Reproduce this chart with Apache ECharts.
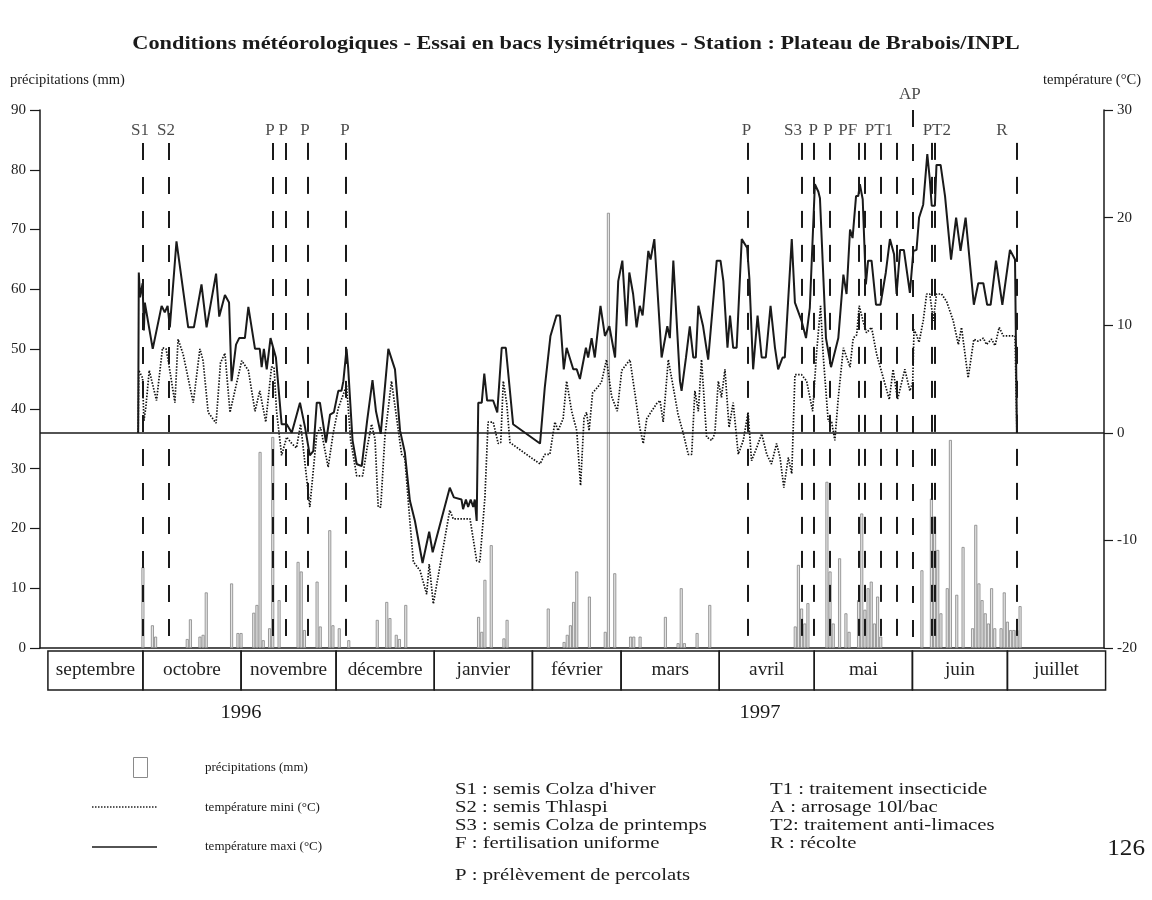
<!DOCTYPE html>
<html>
<head>
<meta charset="utf-8">
<script src="https://cdn.jsdelivr.net/npm/echarts@6/dist/echarts.min.js"></script>
<style>
  html, body { margin: 0; padding: 0; background: #fff; }
  #chart { width: 1152px; height: 900px; }
</style>
</head>
<body>
<div id="chart"></div>
<script>
// Season axis: day 0 = 1 September 1996
const months = ['septembre', 'octobre', 'novembre', 'décembre', 'janvier', 'février', 'mars', 'avril', 'mai', 'juin', 'juillet'];
const monthStart = [0, 30, 61, 91, 122, 153, 181, 212, 242, 273, 303];
const monthEnd = [30, 61, 91, 122, 153, 181, 212, 242, 273, 303, 334];
const years = ['1996', '1997'];

// Daily rainfall (mm)
const rainDays = [30, 33, 34, 44, 45, 48, 49, 50, 58, 60, 61, 65, 66, 67, 68, 70, 71, 73, 79, 80, 81, 85, 86, 89, 90, 92, 95,
  104, 107, 108, 110, 111, 113, 136, 137, 138, 140, 144, 145, 158, 163, 164, 165, 166, 167, 171, 176, 177, 179, 184, 185, 187,
  195, 199, 200, 201, 205, 209, 236, 237, 238, 239, 240, 246, 247, 248, 250, 252, 253, 256, 257, 258, 259, 260, 261, 262, 263,
  276, 279, 280, 281, 282, 284, 285, 287, 289, 292, 293, 294, 295, 296, 297, 298, 299, 301, 302, 303, 304, 305, 306, 307];
const rainMm = [13.5, 3.8, 1.9, 1.5, 4.8, 1.9, 2.2, 9.3, 10.8, 2.5, 2.5, 5.9, 7.2, 32.8, 1.3, 3.3, 35.3, 8.0, 14.4, 12.8, 3.0, 11.1, 3.6, 19.7, 3.8, 3.3, 1.3,
  4.7, 7.7, 5.0, 2.2, 1.5, 7.2, 5.2, 2.7, 11.4, 17.2, 1.6, 4.7, 6.6, 1.0, 2.2, 3.8, 7.7, 12.8, 8.6, 2.7, 72.8, 12.5, 1.9, 1.9, 1.9,
  5.2, 0.8, 10.0, 0.8, 2.5, 7.2, 3.6, 13.9, 6.6, 4.1, 7.5, 27.8, 12.8, 4.1, 15.0, 5.8, 2.7, 8.0, 22.5, 6.4, 10.0, 11.1, 4.1, 8.6, 1.9,
  13.0, 25.0, 22.0, 16.4, 5.8, 10.0, 34.8, 8.9, 16.9, 3.3, 20.6, 10.8, 8.0, 5.8, 4.1, 10.0, 3.3, 3.3, 9.3, 4.4, 3.0, 3.0, 3.0, 7.0];

// Maximum temperature (°C): [day, value]
const tmax = [[28.5,0],[28.7,14.9],[29.1,12.6],[29.9,13.9],[30.3,9.5],[30.6,12.1],[33.1,7.8],[35.9,11.8],[36.9,11.2],[37.8,11.8],[38.5,9.8],[40.6,17.8],[44.3,9.8],[46.1,9.8],[48.5,13.8],[50.1,9.8],[53.1,14.8],[54.1,10.8],[55.9,12.8],[57.2,12.1],[58.0,4.8],[59.4,8.2],[60.4,8.8],[62.2,8.8],[63.3,11.7],[65.4,7.8],[66.9,7.8],[67.5,6.1],[68.2,7.8],[69.1,5.9],[70.3,8.8],[72.0,7.0],[73.8,0.8],[75.4,0.8],[77.0,0],[79.6,2.8],[81.2,0.5],[82.7,-2.1],[83.8,-1.7],[84.9,2.8],[85.9,2.8],[87.8,-0.9],[89.1,1.7],[90.3,1.9],[91.7,3.9],[92.7,3.9],[93.3,4.8],[94.3,7.8],[94.8,6.1],[96.2,-0.7],[97.5,-2.9],[99.1,-3.1],[100.8,1.1],[102.5,4.9],[103.6,2.0],[105.1,-0.1],[107.5,7.8],[109.6,5.9],[111.2,0.2],[112.7,-1.8],[114.3,-6.3],[115.9,-8.2],[118.3,-12.1],[120.4,-9.2],[121.5,-11.1],[126.9,-5.1],[128.2,-6.0],[130.6,-6.2],[131.1,-7.1],[132.0,-6.2],[132.7,-6.9],[133.5,-6.2],[134.3,-6.9],[134.8,-6.2],[135.4,-8.2],[135.9,2.8],[137.0,2.8],[137.8,5.5],[138.7,3.0],[140.6,3.0],[141.9,1.9],[143.3,7.9],[144.6,7.9],[146.9,0.8],[155.4,-1.0],[156.9,4.2],[158.7,9.0],[160.6,10.9],[161.7,10.9],[162.9,5.9],[163.8,7.9],[165.9,5.9],[167.0,5.9],[168.0,5.0],[169.9,7.9],[170.6,7.0],[171.7,8.8],[172.7,7.0],[174.5,11.8],[175.9,9.0],[177.3,9.9],[179.1,7.0],[180.1,14.1],[181.4,16.0],[182.7,9.9],[183.6,14.9],[184.8,12.9],[185.9,9.8],[186.9,11.8],[187.8,10.9],[189.6,16.9],[190.3,16.1],[191.5,18.0],[193.8,7.0],[195.6,9.9],[196.4,8.8],[197.5,16.0],[199.6,4.8],[200.1,3.9],[201.5,7.0],[202.7,9.9],[203.8,7.0],[204.6,7.0],[205.4,11.8],[206.9,9.9],[208.5,6.8],[211.2,16.0],[212.4,16.0],[213.3,14.1],[214.6,7.9],[215.4,10.9],[216.4,7.9],[217.5,7.9],[219.1,18.0],[220.8,17.2],[221.5,14.4],[222.7,5.9],[224.1,10.9],[225.4,7.0],[226.7,7.0],[228.2,11.8],[229.6,7.9],[230.6,5.9],[232.0,7.0],[232.7,7.0],[234.9,18.0],[235.9,12.1],[238.0,10.4],[239.4,8.8],[240.6,11.6],[242.2,23.1],[243.3,22.4],[243.8,21.8],[245.7,8.8],[247.3,6.1],[249.6,8.8],[251.2,14.7],[252.2,12.9],[253.3,18.9],[254.1,18.1],[255.2,22.0],[255.9,22.0],[256.4,23.1],[257.3,21.7],[258.3,13.8],[259.0,16.0],[260.1,16.0],[261.5,11.9],[262.9,11.9],[264.6,14.9],[265.9,18.0],[267.2,16.6],[268.0,12.9],[269.1,17.0],[270.3,17.0],[272.2,13.0],[273.3,16.9],[274.3,17.0],[275.1,20.0],[276.4,21.2],[277.7,25.9],[278.5,23.5],[279.1,21.1],[280.1,21.1],[280.6,24.9],[281.9,24.9],[283.3,22.0],[285.2,16.1],[286.8,20.0],[288.2,16.9],[289.8,20.0],[292.4,11.9],[293.8,13.9],[295.4,13.9],[296.6,11.9],[297.7,11.9],[299.4,16.0],[301.4,11.9],[303.8,17.0],[305.4,16.1],[306.0,0]];

// Minimum temperature (°C): [day, value]
const tmin = [[28.5,0],[28.7,5.8],[29.9,5.1],[30.3,1.1],[30.9,2.3],[32.0,5.8],[34.3,3.0],[36.2,7.9],[37.3,7.8],[38.0,6.7],[40.1,2.8],[41.1,8.7],[42.7,7.3],[45.9,2.8],[48.0,7.8],[49.0,6.7],[50.6,1.9],[53.1,0.9],[54.5,6.5],[55.9,7.4],[57.5,1.9],[61.2,6.7],[63.3,5.8],[65.4,2.0],[66.9,3.9],[68.8,1.0],[70.6,6.1],[71.4,6.1],[72.2,2.0],[73.8,-2.1],[75.4,-0.4],[77.0,-1.0],[78.5,-1.4],[79.8,0.8],[82.7,-6.9],[84.9,-0.1],[86.1,0.5],[88.5,-3.2],[90.1,0],[91.7,2.3],[94.3,4.4],[95.6,-0.7],[97.5,-4.0],[99.4,-4.0],[100.8,-1.4],[102.2,0.8],[103.3,-0.6],[104.3,-6.9],[105.1,-6.9],[106.4,-0.4],[108.5,4.8],[110.1,1.4],[111.7,-2.0],[112.7,-2.3],[114.3,-8.2],[115.4,-12.0],[117.5,-12.8],[119.6,-15.0],[120.4,-12.2],[121.7,-15.9],[126.9,-7.2],[128.0,-8.0],[133.3,-8.0],[135.4,-11.9],[136.4,-12.0],[138.0,-6.0],[139.0,1.0],[140.6,1.0],[142.2,-1.0],[143.0,-0.9],[143.8,4.8],[144.9,2.7],[145.9,-0.9],[155.4,-2.9],[156.9,-2.0],[158.5,-2.0],[160.1,1.0],[161.1,0.2],[162.7,1.3],[163.8,4.8],[165.4,2.0],[167.0,0.2],[168.2,-4.9],[169.3,1.4],[170.1,1.9],[170.9,0.2],[172.0,3.7],[173.5,4.2],[174.8,4.7],[176.4,6.8],[178.0,3.4],[179.8,2.0],[181.2,5.8],[183.8,6.8],[185.4,3.6],[186.9,0.5],[188.0,-1.0],[189.1,1.3],[190.6,2.0],[192.2,2.7],[193.3,3.0],[194.3,1.0],[195.9,6.8],[197.5,4.2],[199.0,1.7],[200.6,0],[202.2,-2.0],[203.3,-2.0],[204.3,3.9],[205.4,2.0],[206.4,6.8],[208.0,-0.4],[209.6,-0.7],[210.6,-0.1],[211.7,4.8],[212.7,3.3],[213.8,5.9],[215.1,0.5],[216.4,2.8],[218.0,-2.0],[219.6,-0.7],[221.1,1.9],[222.2,-2.6],[223.8,-1.4],[225.4,-0.1],[227.0,-2.0],[228.5,-2.9],[230.1,-1.0],[231.2,-2.3],[232.4,-5.1],[233.8,-2.3],[234.9,-3.8],[235.9,5.4],[238.0,5.4],[239.6,4.8],[241.5,2.0],[242.7,7.3],[244.0,11.8],[244.8,7.3],[246.4,1.1],[247.5,1.0],[248.5,-0.7],[249.6,3.3],[251.2,7.9],[253.3,6.1],[254.3,8.8],[255.4,9.1],[256.2,11.8],[257.4,10.4],[258.5,9.3],[260.1,9.8],[261.7,7.3],[263.8,5.1],[265.7,3.1],[266.9,5.9],[268.3,3.1],[270.6,5.9],[272.2,3.9],[273.1,4.7],[273.5,9.6],[274.3,9.1],[275.1,8.4],[276.4,10.4],[277.5,12.9],[278.5,12.9],[279.6,10.4],[280.6,12.9],[282.2,12.9],[283.8,12.2],[285.9,10.4],[287.5,8.2],[288.5,9.8],[290.6,5.1],[292.4,8.7],[293.8,8.5],[295.4,8.8],[296.4,8.2],[298.0,8.7],[299.1,8.1],[300.4,9.8],[301.7,9.0],[305.4,9.0],[306.0,0]];

// Field operations (day of each operation) and their codes
const eventDays = [30, 38, 71, 75, 82, 94, 221, 238, 242, 247, 256, 258, 263, 268, 273, 279, 280, 306];
const eventCodes = ['S1', 'S2', 'P', 'P', 'P', 'P', 'P', 'S3', 'P', 'P', 'P', 'F', 'P', 'T1', 'AP', 'P', 'T2', 'R'];
// Labels written above the operation lines
const markerLabels = ['S1', 'S2', 'P', 'P', 'P', 'P', 'P', 'S3', 'P', 'P', 'PF', 'PT1', 'AP', 'PT2', 'R'];
const markerLabelDays = [29.1, 37.3, 70.1, 74.3, 81.2, 93.8, 220.6, 235.3, 241.7, 246.3, 252.6, 262.4, 272.2, 280.7, 301.3];

const titleText = 'Conditions météorologiques - Essai en bacs lysimétriques - Station : Plateau de Brabois/INPL';
const leftAxisName = 'précipitations (mm)';
const rightAxisName = 'température (°C)';
const legendLabels = ['précipitations (mm)', 'température mini (°C)', 'température maxi (°C)'];
const notesLeft = ['S1 : semis Colza d\'hiver', 'S2 : semis Thlaspi', 'S3 : semis Colza de printemps', 'F : fertilisation uniforme'];
const notesBottom = 'P : prélèvement de percolats';
const notesRight = ['T1 : traitement insecticide', 'A : arrosage 10l/bac', 'T2: traitement anti-limaces', 'R : récolte'];
const pageNumber = '126';

const SERIF = '"Liberation Serif", "DejaVu Serif", serif';
const INK = '#1a1a1a';

const chart = echarts.init(document.getElementById('chart'), null, { renderer: 'canvas' });

const operationLines = eventDays.map((d, i) => {
  const top = eventCodes[i] === 'AP' ? 90 : 84.5;
  return [{ coord: [d, top] }, { coord: [d, 1.3] }];
});

// Text element placed at (x, y); sx widens the glyphs horizontally around that point
const text = (t, x, y, size, sx, extra) => ({
  type: 'text', silent: true, x: x, y: y, scaleX: sx,
  style: Object.assign({ text: t, x: 0, y: 0, fontFamily: SERIF, fontSize: size, fill: INK, verticalAlign: 'middle', align: 'left' }, extra || {})
});

const graphics = [
  text(titleText, 576, 44, 18, 1.24, { align: 'center', fontWeight: 'bold' }),
  text(leftAxisName, 10, 80, 14.5, 1, {}),
  text(rightAxisName, 1141, 80, 14.5, 1, { align: 'right' }),
  text(years[0], 241, 713, 19, 1.08, { align: 'center' }),
  text(years[1], 760, 713, 19, 1.08, { align: 'center' }),
  { type: 'rect', silent: true, shape: { x: 133.5, y: 757.5, width: 14, height: 20 }, style: { fill: 'none', stroke: '#8a8a8a', lineWidth: 1 } },
  { type: 'line', silent: true, shape: { x1: 92, y1: 807, x2: 157, y2: 807 }, style: { stroke: '#222', lineWidth: 1.4, lineDash: [1.5, 1.5] } },
  { type: 'line', silent: true, shape: { x1: 92, y1: 847, x2: 157, y2: 847 }, style: { stroke: INK, lineWidth: 1.6 } },
  text(legendLabels[0], 205, 768, 13, 1, {}),
  text(legendLabels[1], 205, 808, 13, 1, {}),
  text(legendLabels[2], 205, 847, 13, 1, {}),
  text(notesBottom, 455, 876, 17, 1.22, {}),
  text(pageNumber, 1145, 849, 24, 1.05, { align: 'right' })
];
notesLeft.forEach((t, i) => graphics.push(text(t, 455, 790 + i * 18, 17, 1.22, {})));
notesRight.forEach((t, i) => graphics.push(text(t, 770, 790 + i * 18, 17, 1.22, {})));

const option = {
  animation: false,
  backgroundColor: '#fff',
  grid: [
    { left: 40, right: 48, top: 110, bottom: 252 },
    { left: 40, right: 48, top: 651, height: 39 }
  ],
  xAxis: [
    {
      type: 'value', gridIndex: 0, min: -2.5, max: 333.5,
      axisLine: { show: true, onZero: false, lineStyle: { color: INK, width: 1.5 } },
      axisTick: { show: false }, axisLabel: { show: false }, splitLine: { show: false }
    },
    { type: 'value', gridIndex: 1, min: -2.5, max: 333.5, show: false }
  ],
  yAxis: [
    {
      type: 'value', gridIndex: 0, position: 'left', min: 0, max: 90, interval: 10,
      axisLine: { show: true, onZero: false, lineStyle: { color: INK, width: 1.5 } },
      axisTick: { show: true, length: 10, lineStyle: { color: INK, width: 1.2 } },
      axisLabel: { fontFamily: SERIF, fontSize: 15, color: '#222', margin: 14 },
      splitLine: { show: false }
    },
    {
      type: 'value', gridIndex: 0, position: 'right', min: -20, max: 30, interval: 10,
      axisLine: { show: true, onZero: false, lineStyle: { color: INK, width: 1.5 } },
      axisTick: { show: true, length: 9, lineStyle: { color: INK, width: 1.2 } },
      axisLabel: { fontFamily: SERIF, fontSize: 15, color: '#222', margin: 13 },
      splitLine: { show: false }
    },
    { type: 'value', gridIndex: 1, min: 0, max: 1, show: false }
  ],
  graphic: graphics,
  series: [
    {
      name: legendLabels[0], type: 'bar', xAxisIndex: 0, yAxisIndex: 0,
      data: rainDays.map((d, i) => [d, rainMm[i]]),
      barWidth: 3,
      itemStyle: { color: '#e3e3e3', borderColor: '#858585', borderWidth: 0.8 },
      markLine: {
        silent: true, symbol: ['none', 'none'], label: { show: false },
        lineStyle: { color: INK, width: 2, type: [17, 17] },
        data: operationLines
      },
      z: 1
    },
    {
      name: legendLabels[1], type: 'line', xAxisIndex: 0, yAxisIndex: 1,
      data: tmin, symbol: 'none',
      lineStyle: { color: '#111', width: 1.7, type: [1.5, 1.5] },
      z: 3
    },
    {
      name: legendLabels[2], type: 'line', xAxisIndex: 0, yAxisIndex: 1,
      data: tmax, symbol: 'none',
      lineStyle: { color: INK, width: 2 },
      markLine: {
        silent: true, symbol: ['none', 'none'], label: { show: false },
        lineStyle: { color: INK, width: 1.5, type: 'solid' },
        data: [{ yAxis: 0 }]
      },
      z: 4
    },
    {
      name: 'opérations', type: 'scatter', xAxisIndex: 0, yAxisIndex: 0,
      clip: false, symbolSize: 1, itemStyle: { color: 'rgba(0,0,0,0)' },
      data: markerLabels.map((t, i) => ({ name: t, value: [markerLabelDays[i], t === 'AP' ? 92.6 : 86.6] })),
      label: {
        show: true, position: 'inside', formatter: '{b}',
        fontFamily: SERIF, fontSize: 17, color: INK
      },
      z: 5
    },
    {
      name: 'mois', type: 'custom', xAxisIndex: 1, yAxisIndex: 2,
      data: months.map((m, i) => [monthStart[i], monthEnd[i]]),
      renderItem: function (params, api) {
        const p0 = api.coord([api.value(0), 1]);
        const p1 = api.coord([api.value(1), 0]);
        return {
          type: 'group',
          children: [
            {
              type: 'rect',
              shape: { x: p0[0], y: p0[1], width: p1[0] - p0[0], height: p1[1] - p0[1] },
              style: { fill: 'none', stroke: INK, lineWidth: 1.5 }
            },
            {
              type: 'text',
              x: (p0[0] + p1[0]) / 2, y: (p0[1] + p1[1]) / 2, scaleX: 1.07,
              style: {
                text: months[params.dataIndex], x: 0, y: 0,
                align: 'center', verticalAlign: 'middle', fontFamily: SERIF, fontSize: 18, fill: '#222'
              }
            }
          ]
        };
      }
    }
  ]
};

chart.setOption(option);
</script>
</body>
</html>
